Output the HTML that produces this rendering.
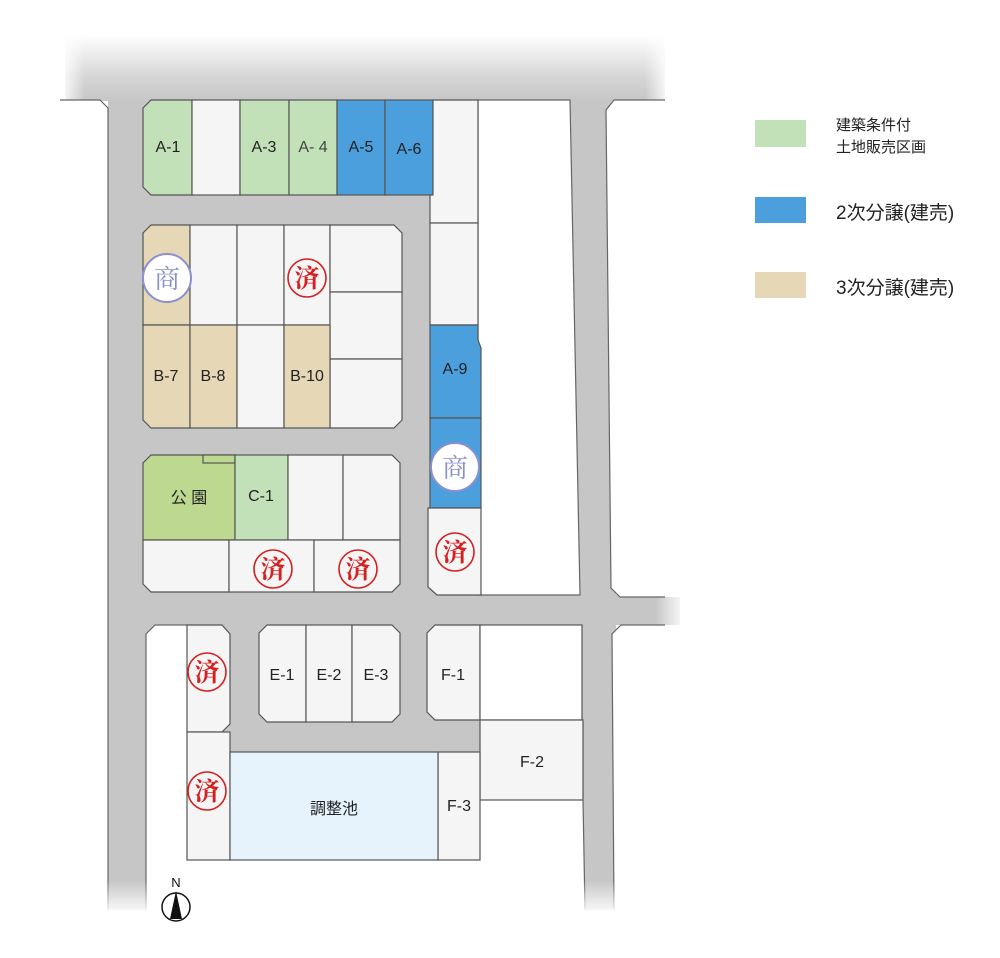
<!DOCTYPE html>
<html><head><meta charset="utf-8"><style>
html,body{margin:0;padding:0;background:#fff;}
svg{display:block;}
text{font-family:"Liberation Sans","Noto Sans CJK JP",sans-serif;}
</style></head><body>
<svg width="1000" height="958" viewBox="0 0 1000 958" xmlns="http://www.w3.org/2000/svg">
<defs>
<linearGradient id="tg" x1="0" y1="0" x2="0" y2="1">
<stop offset="0" stop-color="#fff"/><stop offset="0.6" stop-color="#d8d8d8"/><stop offset="1" stop-color="#c6c6c6"/></linearGradient>
<linearGradient id="lf" x1="0" y1="0" x2="1" y2="0">
<stop offset="0" stop-color="#fff" stop-opacity="1"/><stop offset="1" stop-color="#fff" stop-opacity="0"/></linearGradient>
<linearGradient id="rf" x1="0" y1="0" x2="1" y2="0">
<stop offset="0" stop-color="#fff" stop-opacity="0"/><stop offset="1" stop-color="#fff" stop-opacity="1"/></linearGradient>
<linearGradient id="bf" x1="0" y1="0" x2="0" y2="1">
<stop offset="0" stop-color="#fff" stop-opacity="0"/><stop offset="1" stop-color="#fff" stop-opacity="1"/></linearGradient>
</defs>
<!-- roads -->
<rect x="65" y="35" width="600" height="66" fill="url(#tg)"/>
<rect x="60" y="35" width="25" height="66" fill="url(#lf)"/>
<rect x="645" y="35" width="25" height="66" fill="url(#rf)"/>
<polygon points="108,100 620,100 614,910 108,910" fill="#c6c6c6"/>
<rect x="600" y="595" width="80" height="30" fill="#c6c6c6"/>
<rect x="655" y="590" width="30" height="40" fill="url(#rf)"/>
<!-- outside white edges -->
<polygon points="60,100 100,100 108,108 108,958 0,958 0,100" fill="#fff"/>
<polyline points="60,100 100,100 108,108 108,910" fill="none" stroke="#666" stroke-width="1.2"/>
<polygon points="606,110 614,100 1000,100 1000,597 620,597 611,588" fill="#fff"/>
<polyline points="665,100 614,100 606,110 611,588 620,597 665,597" fill="none" stroke="#666" stroke-width="1.2"/>
<polygon points="612,634 621,625 1000,625 1000,958 614,958" fill="#fff"/>
<polyline points="665,625 621,625 612,634 614,910" fill="none" stroke="#666" stroke-width="1.2"/>
<!-- white areas inside -->
<polygon points="478,100 570,100 580,595 478,595" fill="#fff" stroke="#666" stroke-width="1.2"/>
<polygon points="146,634 155,625 187,625 187,860 230,860 438,860 480,860 480,800 583,800 585,910 146,910" fill="#fff"/>
<polyline points="146,910 146,634 155,625 187,625" fill="none" stroke="#666" stroke-width="1.2"/>
<polyline points="583,800 585,910" fill="none" stroke="#666" stroke-width="1.2"/>
<rect x="100" y="880" width="530" height="35" fill="url(#bf)"/>
<g stroke="#555" stroke-width="1.2">
<!-- A row -->
<polygon points="151,100 192,100 192,195 151,195 143,187 143,108" fill="#c3e1b8"/>
<rect x="192" y="100" width="48" height="95" fill="#f5f5f5"/>
<rect x="240" y="100" width="49" height="95" fill="#c3e1b8"/>
<rect x="289" y="100" width="48" height="95" fill="#c3e1b8"/>
<rect x="337" y="100" width="48" height="95" fill="#4a9fdc"/>
<rect x="385" y="100" width="48" height="95" fill="#4a9fdc"/>
<!-- right strip -->
<polygon points="433,100 478,100 478,223 430,223 430,195 433,195" fill="#f5f5f5"/>
<rect x="430" y="223" width="48" height="102" fill="#f5f5f5"/>
<polygon points="430,325 478,325 478,340 481,348 481,418 430,418" fill="#4a9fdc"/>
<rect x="430" y="418" width="51" height="90" fill="#4a9fdc"/>
<polygon points="430,508 481,508 481,595 437,595 428,587 428,508" fill="#f5f5f5"/>
<!-- B block -->
<polygon points="151,225 190,225 190,325 143,325 143,233" fill="#e6d8b7"/>
<rect x="190" y="225" width="47" height="100" fill="#f5f5f5"/>
<rect x="237" y="225" width="47" height="100" fill="#f5f5f5"/>
<rect x="284" y="225" width="46" height="100" fill="#f5f5f5"/>
<polygon points="330,225 394,225 402,233 402,292 330,292" fill="#f5f5f5"/>
<rect x="330" y="292" width="72" height="67" fill="#f5f5f5"/>
<polygon points="330,359 402,359 402,420 394,428 330,428" fill="#f5f5f5"/>
<polygon points="143,325 190,325 190,428 151,428 143,420" fill="#e6d8b7"/>
<rect x="190" y="325" width="47" height="103" fill="#e6d8b7"/>
<rect x="237" y="325" width="47" height="103" fill="#f5f5f5"/>
<rect x="284" y="325" width="46" height="103" fill="#e6d8b7"/>
<!-- C block -->
<polygon points="151,455 235,455 235,540 143,540 143,463" fill="#bcd98f"/>
<rect x="203" y="455" width="32" height="8" fill="#bcd98f"/>
<rect x="235" y="455" width="53" height="85" fill="#c3e1b8"/>
<rect x="288" y="455" width="55" height="85" fill="#f5f5f5"/>
<polygon points="343,455 392,455 400,463 400,540 343,540" fill="#f5f5f5"/>
<polygon points="143,540 229,540 229,592 151,592 143,584" fill="#f5f5f5"/>
<rect x="229" y="540" width="85" height="52" fill="#f5f5f5"/>
<polygon points="314,540 400,540 400,584 392,592 314,592" fill="#f5f5f5"/>
<!-- left 済 column -->
<polygon points="187,625 222,625 230,634 230,724 222,732 187,732" fill="#f5f5f5"/>
<rect x="187" y="732" width="43" height="128" fill="#f5f5f5"/>
<!-- E block -->
<polygon points="267,625 306,625 306,722 267,722 259,714 259,633" fill="#f5f5f5"/>
<rect x="306" y="625" width="46" height="97" fill="#f5f5f5"/>
<polygon points="352,625 392,625 400,633 400,714 392,722 352,722" fill="#f5f5f5"/>
<!-- F -->
<polygon points="435,625 480,625 480,720 435,720 427,712 427,633" fill="#f5f5f5"/>
<rect x="480" y="625" width="102" height="95" fill="#fff"/>
<rect x="480" y="720" width="103" height="80" fill="#f5f5f5"/>
<rect x="438" y="752" width="42" height="108" fill="#f5f5f5"/>
<rect x="230" y="752" width="208" height="108" fill="#e6f3fc"/>
</g>
<!-- labels -->
<g font-size="16" fill="#222" text-anchor="middle">
<text x="168" y="152">A-1</text><text x="264" y="152">A-3</text><text x="313" y="152" fill="#444">A- 4</text>
<text x="361" y="152">A-5</text><text x="409" y="154">A-6</text><text x="455" y="374">A-9</text>
<text x="166" y="381">B-7</text><text x="213" y="381">B-8</text><text x="307" y="381">B-10</text>
<text x="189" y="503">公 園</text><text x="261" y="501">C-1</text>
<text x="282" y="680">E-1</text><text x="329" y="680">E-2</text><text x="376" y="680">E-3</text>
<text x="453" y="680">F-1</text><text x="532" y="767">F-2</text><text x="459" y="811">F-3</text>
<text x="334" y="814">調整池</text>
</g>
<!-- stamps -->
<g fill="#fff" stroke="#8a8fd0" stroke-width="2">
<circle cx="167" cy="278" r="24"/><circle cx="455" cy="467" r="24"/></g>
<g font-size="26" fill="#8a8fc8" text-anchor="middle">
<text x="167" y="288" style="font-family:'Noto Serif CJK SC',serif">商</text>
<text x="455" y="477" style="font-family:'Noto Serif CJK SC',serif">商</text></g>
<g fill="none" stroke="#d42020" stroke-width="1.6">
<circle cx="307" cy="278" r="19"/><circle cx="273" cy="569" r="19"/><circle cx="358" cy="569" r="19"/>
<circle cx="455" cy="552" r="19"/><circle cx="207" cy="672" r="19"/><circle cx="207" cy="791" r="19"/></g>
<g font-size="25" fill="#d42020" text-anchor="middle" font-weight="bold">
<text x="307" y="287" style="font-family:'Noto Serif CJK SC',serif">済</text>
<text x="273" y="578" style="font-family:'Noto Serif CJK SC',serif">済</text>
<text x="358" y="578" style="font-family:'Noto Serif CJK SC',serif">済</text>
<text x="455" y="561" style="font-family:'Noto Serif CJK SC',serif">済</text>
<text x="207" y="681" style="font-family:'Noto Serif CJK SC',serif">済</text>
<text x="207" y="800" style="font-family:'Noto Serif CJK SC',serif">済</text></g>
<!-- north -->
<text x="176" y="887" font-size="13" text-anchor="middle" fill="#111">N</text>
<circle cx="176" cy="907" r="14" fill="#fff" stroke="#111" stroke-width="1.5"/>
<polygon points="176,891 170,919 182,919" fill="#111"/>
<!-- legend -->
<rect x="755" y="120" width="51" height="27" fill="#c3e1b8"/>
<rect x="755" y="197" width="51" height="26" fill="#4a9fdc"/>
<rect x="755" y="272" width="51" height="26" fill="#e6d8b7"/>
<g fill="#222">
<text x="836" y="130" font-size="15">建築条件付</text>
<text x="836" y="152" font-size="15">土地販売区画</text>
<text x="836" y="219" font-size="19">2次分譲(建売)</text>
<text x="836" y="294" font-size="19">3次分譲(建売)</text>
</g>
</svg>
</body></html>
